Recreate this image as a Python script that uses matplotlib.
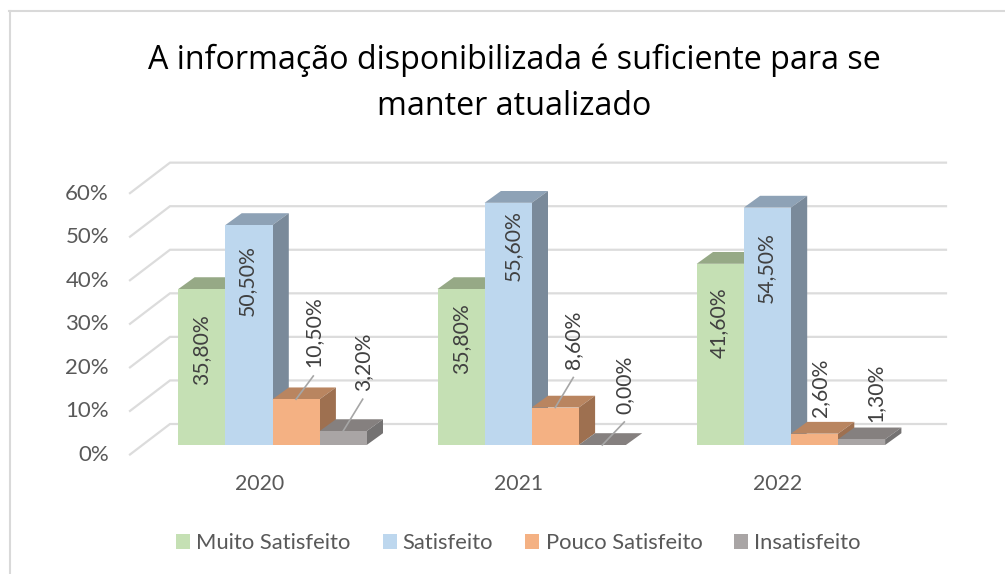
import matplotlib
matplotlib.use("Agg")
import matplotlib.pyplot as plt
from matplotlib.lines import Line2D
from matplotlib.patches import Patch, Polygon

years = ["2020", "2021", "2022"]
series_names = ["Muito Satisfeito", "Satisfeito", "Pouco Satisfeito", "Insatisfeito"]
muito_satisfeito = [35.8, 35.8, 41.6]
satisfeito = [50.5, 55.6, 54.5]
pouco_satisfeito = [10.5, 8.6, 2.6]
insatisfeito = [3.2, 0.0, 1.3]
y_ticks = [0, 10, 20, 30, 40, 50, 60]

series = [muito_satisfeito, satisfeito, pouco_satisfeito, insatisfeito]
front_colors = ["#c5e0b4", "#bdd7ee", "#f4b183", "#a9a5a5"]
top_colors = ["#96a986", "#8ea2b6", "#b98560", "#85807f"]
side_colors = ["#7f9070", "#7a8a9a", "#9e7050", "#747272"]

# hand placed data labels, centre in image pixels, [series][year]
label_px = [
    [(201.5, 350), (460.7, 339), (719, 323)],
    [(246.7, 281), (513, 246), (765.7, 267.5)],
    [(313.3, 332), (573.3, 340), (820, 387.5)],
    [(362.7, 361.7), (624.3, 384.5), (875, 393.3)],
]

W, H = 1005, 574
PX_X = 259.2   # pixels per category
PX_Y = 4.356   # pixels per percent
X0, Y0 = 272.5, 445
BAR_W = 47.1 / PX_X
DX, DY = 16.3 / PX_X, 11.8 / PX_Y

fig = plt.figure(figsize=(W / 100, H / 100), dpi=100)
ax = fig.add_axes([0, 0, 1, 1])
ax.set_xlim(-X0 / PX_X, (W - X0) / PX_X)
ax.set_ylim(-(H - Y0) / PX_Y, Y0 / PX_Y)
ax.axis("off")


def px(x, y):
    return (x - X0) / PX_X, (Y0 - y) / PX_Y


# chart frame, only top and left are visible in the crop
fig.add_artist(Line2D([9.5 / W, 9.5 / W], [0, 1 - 11 / H], color="#d9d9d9", lw=1.5))
fig.add_artist(Line2D([9 / W, 1], [1 - 11 / H, 1 - 11 / H], color="#d9d9d9", lw=1.5))

# back wall gridlines and the slant towards the tick labels
wall_left = (170 - X0) / PX_X
wall_right = (946 - X0) / PX_X
slant_x = (130 - X0) / PX_X
back_off = (445 - 424) / PX_Y
front_off = (445 - 454.5) / PX_Y
for t in y_ticks:
    ax.plot([slant_x, wall_left, wall_right], [t + front_off, t + back_off, t + back_off],
            color="#dcdcdc", lw=1.6, zorder=1, solid_joinstyle="miter")
    ax.text((109 - X0) / PX_X, t + (445 - 455) / PX_Y, f"{t}%", ha="right", va="center",
            fontsize=16, family="Lato", color="#595959")


def draw_bar(x, value, idx):
    front = [(x, 0), (x + BAR_W, 0), (x + BAR_W, value), (x, value)]
    top = [(x, value), (x + BAR_W, value), (x + BAR_W + DX, value + DY), (x + DX, value + DY)]
    side = [(x + BAR_W, 0), (x + BAR_W + DX, DY), (x + BAR_W + DX, value + DY), (x + BAR_W, value)]
    ax.add_patch(Polygon(top, fc=top_colors[idx], ec="none", zorder=2))
    ax.add_patch(Polygon(side, fc=side_colors[idx], ec="none", zorder=2))
    ax.add_patch(Polygon(front, fc=front_colors[idx], ec="none", zorder=2))


for i, year in enumerate(years):
    for j, vals in enumerate(series):
        draw_bar(i + (j - 2) * BAR_W, vals[i], j)
    ax.text(i - 13 / PX_X, (Y0 - 484) / PX_Y, year, ha="center", va="center", fontsize=15.3,
            family="Lato", color="#595959")

# data labels, the short bars get a leader line if there is room
for i in range(len(years)):
    for j, vals in enumerate(series):
        v = vals[i]
        lx, ly = label_px[j][i]
        txt = f"{v:.2f}%".replace(".", ",")
        tx, ty = px(lx, ly)
        ax.text(tx, ty, txt, rotation=90, ha="center", va="center", fontsize=15.2,
                family="Lato", color="#404040", zorder=4)
        if j >= 2 and (v > 3 or v == 0):
            half = 35 if v >= 10 else 28.5
            cx = i + (j - 2) * BAR_W + BAR_W / 2
            ex, ey = px(lx, ly + half + 9)
            ax.plot([cx, ex], [v, ey], color="#a6a6a6", lw=1.2, zorder=4)

fig.text(514 / W, 1 - 83 / H, "A informação disponibilizada é suficiente para se\nmanter atualizado",
         ha="center", va="center", fontsize=23.2, family="Open Sans", color="black", linespacing=1.52)

handles = [Patch(fc=c, ec="none") for c in front_colors]
leg = ax.legend(handles, series_names, ncol=4, frameon=False, loc="center",
                bbox_to_anchor=(518.5 / W, 1 - 543 / H), bbox_transform=fig.transFigure,
                prop={"family": "Lato", "size": 15.8}, labelcolor="#595959",
                handlelength=0.64, handleheight=0.64, handletextpad=0.28, columnspacing=1.46)

fig.savefig("out.png", dpi=100)
